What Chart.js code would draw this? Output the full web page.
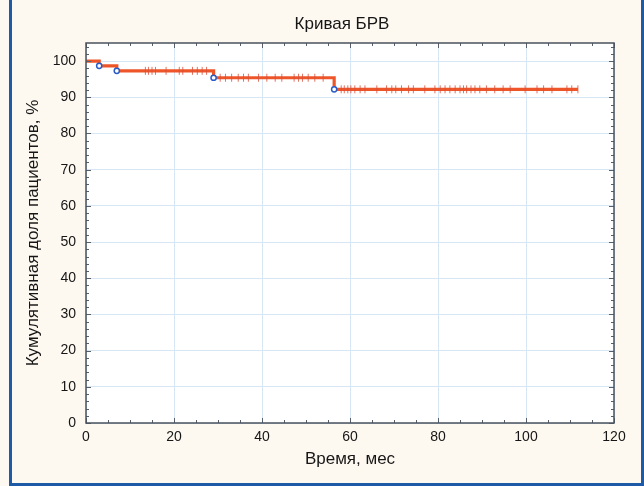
<!DOCTYPE html>
<html><head><meta charset="utf-8">
<script src="https://cdn.jsdelivr.net/npm/chart.js@4"></script>
<style>
html,body{margin:0;padding:0;background:#fdf9f1;}
#wrap{position:relative;width:644px;height:486px;overflow:hidden;background:#fdf9f1;}
#frame{position:absolute;left:9px;top:-10px;width:635px;height:496px;border:3px solid #1f5aa6;box-sizing:border-box;pointer-events:none;}
canvas{position:absolute;left:0;top:0;}
</style>
</head><body>
<div id="wrap"><canvas id="c" width="644" height="486"></canvas><div id="frame"></div></div>
<script>
// Kaplan–Meier curve (time in months, cumulative share in %)
const curveTimes  = [0, 3, 7, 29, 56.4, 111.8];
const curveValues = [100, 98.7, 97.3, 95.4, 92.2, 92.2];
// events (hollow circles)
const eventTimes  = [3, 7, 29, 56.4];
const eventValues = [98.7, 97.3, 95.4, 92.2];
// censored observations (vertical marks)
const censorTimes = [
  13.5, 14.2, 15, 15.8, 18.2, 21.2, 22, 24.2, 25.3, 26.4, 27.4,
  30.5, 31.7, 33.1, 34.6, 35.8, 36.9, 39.2, 41.1, 43, 44.5, 47.3, 48.3, 49.2, 50.5, 52, 53.9,
  58, 58.7, 59.5, 60.2, 61.1, 62.3, 63.4, 66.1, 68.3, 69.5, 70.4, 71.7, 73.3, 74.4, 77, 79.3,
  80.5, 81.6, 82.7, 83.9, 85, 85.8, 86.5, 87.5, 88.4, 89.5, 91, 92.9, 94.8, 96.4, 99.8,
  102.5, 104, 105.9, 109.3, 110.4, 111.8
];
const censorValues = [
  97.3, 97.3, 97.3, 97.3, 97.3, 97.3, 97.3, 97.3, 97.3, 97.3, 97.3,
  95.4, 95.4, 95.4, 95.4, 95.4, 95.4, 95.4, 95.4, 95.4, 95.4, 95.4, 95.4, 95.4, 95.4, 95.4, 95.4,
  92.2, 92.2, 92.2, 92.2, 92.2, 92.2, 92.2, 92.2, 92.2, 92.2, 92.2, 92.2, 92.2, 92.2, 92.2, 92.2,
  92.2, 92.2, 92.2, 92.2, 92.2, 92.2, 92.2, 92.2, 92.2, 92.2, 92.2, 92.2, 92.2, 92.2, 92.2,
  92.2, 92.2, 92.2, 92.2, 92.2, 92.2
];
// axis ticks
const xTicks = [0, 20, 40, 60, 80, 100, 120];
const yTicks = [0, 10, 20, 30, 40, 50, 60, 70, 80, 90, 100];
const xMinorTicks = [0,5,10,15,20,25,30,35,40,45,50,55,60,65,70,75,80,85,90,95,100,105,110,115,120];
const yMinorTicks = [0,2,4,6,8,10,12,14,16,18,20,22,24,26,28,30,32,34,36,38,40,42,44,46,48,50,52,54,56,58,60,62,64,66,68,70,72,74,76,78,80,82,84,86,88,90,92,94,96,98,100,102,104];

const toPts = (xs, ys) => xs.map((x, i) => ({x, y: ys[i]}));
const FONT = "'Liberation Sans', Arial, Helvetica, sans-serif";
const TXT = '#161616';

const framePlugin = {
  id: 'framePlugin',
  afterLayout(chart) {
    // the reference title sits a little left of the plot centre
    if (chart.titleBlock) { chart.titleBlock.left -= 16; }
  },
  beforeDraw(chart) {
    const {ctx, chartArea: a} = chart;
    ctx.save();
    ctx.fillStyle = '#ffffff';
    ctx.fillRect(a.left, a.top, a.right - a.left, a.bottom - a.top);
    ctx.restore();
  },
  afterDatasetsDraw(chart) {
    const {ctx, chartArea: a, scales: {x, y}} = chart;
    ctx.save();
    ctx.strokeStyle = '#56606c';
    ctx.lineWidth = 1;
    ctx.beginPath();
    xMinorTicks.forEach(v => {
      const px = Math.round(x.getPixelForValue(v)) + 0.5;
      const len = xTicks.includes(v) ? 5 : 3;
      ctx.moveTo(px, a.bottom); ctx.lineTo(px, a.bottom - len);
      ctx.moveTo(px, a.top); ctx.lineTo(px, a.top + len);
    });
    yMinorTicks.forEach(v => {
      const py = Math.round(y.getPixelForValue(v)) + 0.5;
      const len = yTicks.includes(v) ? 5 : 3;
      ctx.moveTo(a.left, py); ctx.lineTo(a.left + len, py);
      ctx.moveTo(a.right, py); ctx.lineTo(a.right - len, py);
    });
    ctx.stroke();
    ctx.strokeStyle = '#4a525c';
    ctx.lineWidth = 1.5;
    ctx.strokeRect(a.left, a.top, a.right - a.left, a.bottom - a.top);
    ctx.restore();
  }
};

new Chart(document.getElementById('c'), {
  type: 'line',
  data: {
    datasets: [
      {
        label: 'Выжившие',
        data: toPts(curveTimes, curveValues),
        stepped: true,
        borderColor: '#ee5529',
        borderWidth: 3.2,
        pointRadius: 0,
        fill: false,
        order: 3
      },
      {
        label: 'Цензурированные',
        type: 'scatter',
        data: toPts(censorTimes, censorValues),
        pointStyle: 'line',
        rotation: 90,
        pointRadius: 4,
        borderColor: 'rgba(215,80,60,0.8)',
        borderWidth: 1,
        order: 2
      },
      {
        label: 'События',
        type: 'scatter',
        data: toPts(eventTimes, eventValues),
        pointStyle: 'circle',
        pointRadius: 2.6,
        borderColor: '#2a5cc8',
        backgroundColor: '#ffffff',
        borderWidth: 1.5,
        order: 1
      }
    ]
  },
  options: {
    responsive: false,
    animation: false,
    devicePixelRatio: 1,
    layout: {padding: {left: 14, right: 30, top: 0, bottom: 0}},
    plugins: {
      legend: {display: false},
      tooltip: {enabled: false},
      title: {
        display: true,
        text: 'Кривая БРВ',
        fullSize: false,
        color: TXT,
        font: {family: FONT, size: 17, weight: 'normal'},
        padding: {top: 14, bottom: 8.6}
      }
    },
    scales: {
      x: {
        type: 'linear',
        min: 0, max: 120,
        afterBuildTicks: s => { s.ticks = xTicks.map(v => ({value: v})); },
        afterFit: s => { s.height = 63; },
        ticks: {color: TXT, font: {family: FONT, size: 14}, padding: 6, maxRotation: 0},
        grid: {color: '#d6e6f4', lineWidth: 1, drawTicks: false},
        border: {display: false},
        title: {display: true, text: 'Время, мес', color: TXT, font: {family: FONT, size: 17}, padding: {top: 0, bottom: 16.8}}
      },
      y: {
        type: 'linear',
        min: 0, max: 105,
        afterBuildTicks: s => { s.ticks = yTicks.map(v => ({value: v})); },
        afterFit: s => { s.width = 72; },
        ticks: {color: TXT, font: {family: FONT, size: 14}, padding: 10},
        grid: {color: '#d6e6f4', lineWidth: 1, drawTicks: false},
        border: {display: false},
        title: {display: true, text: 'Кумулятивная доля пациентов, %', color: TXT, font: {family: FONT, size: 17}, padding: {top: 9.3, bottom: 0}}
      }
    }
  },
  plugins: [framePlugin]
});
</script>
</body></html>
